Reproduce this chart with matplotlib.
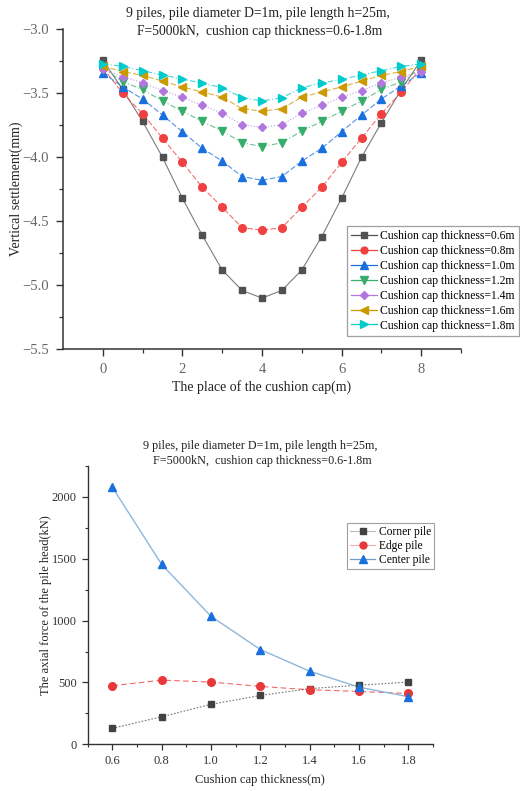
import matplotlib
matplotlib.use("Agg")
import matplotlib.pyplot as plt
from matplotlib.ticker import MultipleLocator, FixedLocator

plt.rcParams['font.family'] = ['Liberation Serif', 'DejaVu Serif']

# ---------------- data: top chart ----------------
place = [0, 0.5, 1, 1.5, 2, 2.5, 3, 3.5, 4, 4.5, 5, 5.5, 6, 6.5, 7, 7.5, 8]
thick_labels = ["Cushion cap thickness=0.6m", "Cushion cap thickness=0.8m",
                "Cushion cap thickness=1.0m", "Cushion cap thickness=1.2m",
                "Cushion cap thickness=1.4m", "Cushion cap thickness=1.6m",
                "Cushion cap thickness=1.8m"]
s06 = [-3.24, -3.47, -3.72, -4.00, -4.32, -4.61, -4.88, -5.04, -5.10,
       -5.04, -4.88, -4.62, -4.32, -4.00, -3.73, -3.47, -3.24]
s08 = [-3.30, -3.50, -3.66, -3.85, -4.04, -4.235, -4.39, -4.55, -4.57,
       -4.55, -4.39, -4.235, -4.04, -3.85, -3.66, -3.49, -3.30]
s10 = [-3.34, -3.45, -3.545, -3.67, -3.80, -3.93, -4.03, -4.15, -4.18,
       -4.15, -4.03, -3.93, -3.80, -3.67, -3.545, -3.44, -3.34]
s12 = [-3.30, -3.41, -3.47, -3.56, -3.64, -3.72, -3.795, -3.886, -3.917,
       -3.886, -3.795, -3.72, -3.64, -3.56, -3.47, -3.41, -3.30]
s14 = [-3.31, -3.37, -3.417, -3.48, -3.53, -3.595, -3.655, -3.745, -3.766,
       -3.745, -3.655, -3.595, -3.53, -3.48, -3.417, -3.375, -3.33]
s16 = [-3.29, -3.33, -3.36, -3.405, -3.45, -3.49, -3.53, -3.62, -3.64,
       -3.62, -3.53, -3.49, -3.45, -3.405, -3.36, -3.33, -3.29]
s18 = [-3.27, -3.29, -3.323, -3.357, -3.39, -3.42, -3.456, -3.534, -3.56,
       -3.534, -3.456, -3.42, -3.39, -3.357, -3.323, -3.29, -3.27]
top_series = [s06, s08, s10, s12, s14, s16, s18]

# ---------------- data: bottom chart ----------------
thickness = [0.6, 0.8, 1.0, 1.2, 1.4, 1.6, 1.8]
pile_labels = ["Corner pile", "Edge pile", "Center pile"]
corner = [129, 223, 323, 395, 450, 478, 503]
edge = [473, 519, 503, 468, 441, 427, 411]
center = [2078, 1454, 1035, 766, 591, 462, 385]

# ---------------- styles ----------------
colors = ['#515151', '#F14040', '#1A6FDF', '#37AD6B', '#B177DE', '#CC9900', '#00CBCC']
markers = ['s', 'o', '^', 'v', 'D', '<', '>']
msizes = [5, 5.5, 6, 6, 4.5, 6, 6]
lstyles = ['-', (0, (5, 2)), (0, (5, 2)), (0, (5, 2, 1, 2)), ':', (0, (5, 2)), (0, (5, 2, 1, 2))]

W, H = 520, 791
fig = plt.figure(figsize=(W / 100, H / 100), dpi=100)

def fx(px):
    return px / W

def fy(py):
    return 1 - py / H

# ---------------- top axes ----------------
ax1 = fig.add_axes([fx(63), fy(349.3), fx(461 - 63), (349.3 - 29.3) / H])
for s, c, m, ms, ls, lab in zip(top_series, colors, markers, msizes, lstyles, thick_labels):
    ax1.plot(place, s, color=c, lw=0.8, ls=ls, alpha=0.75, zorder=2)
    ax1.plot(place, s, color=c, lw=0, marker=m, ms=ms, mec=c, zorder=3)
    # legend proxy
    ax1.plot([], [], color=c, lw=0.9, ls='-', marker=m, ms=ms * 0.9, label=lab)
ax1.set_xlim(-1, 9)
ax1.set_ylim(-5.5, -3.0)
ax1.xaxis.set_major_locator(FixedLocator([0, 2, 4, 6, 8]))
ax1.xaxis.set_minor_locator(FixedLocator([1, 3, 5, 7, 9]))
ax1.yaxis.set_major_locator(MultipleLocator(0.5))
ax1.yaxis.set_minor_locator(MultipleLocator(0.25))
for sp in ['top', 'right']:
    ax1.spines[sp].set_visible(False)
for sp in ['left', 'bottom']:
    ax1.spines[sp].set_linewidth(1.1)
    ax1.spines[sp].set_color('#333333')
ax1.tick_params(which='major', direction='out', length=5, width=1, colors='#333333',
                labelcolor='#666666', labelsize=10.5, pad=5)
ax1.tick_params(which='minor', direction='out', length=3, width=0.9, colors='#333333')
ax1.yaxis.set_major_formatter(matplotlib.ticker.FuncFormatter(lambda v, p: f"{v:.1f}".replace('-', '\u2212')))

h1, l1 = ax1.get_legend_handles_labels()
leg1 = fig.legend(h1, l1, loc='upper left', bbox_to_anchor=(fx(347), fy(226)),
                  fontsize=8.4, frameon=True, fancybox=False, edgecolor='#888888',
                  borderpad=0.35, labelspacing=0.25, handlelength=2.2, handletextpad=0.3,
                  borderaxespad=0)
leg1.get_frame().set_linewidth(0.9)

fig.text(fx(258), fy(14), "9 piles, pile diameter D=1m, pile length h=25m,",
         ha='center', va='center', fontsize=9.8, color='#222222')
fig.text(fx(260), fy(31), "F=5000kN,  cushion cap thickness=0.6-1.8m",
         ha='center', va='center', fontsize=9.8, color='#222222')
fig.text(fx(262), fy(387), "The place of the cushion cap(m)", ha='center', va='center',
         fontsize=10, color='#222222')
fig.text(fx(16), fy(189), "Vertical settlement(mm)", ha='center', va='center',
         rotation=90, fontsize=10, color='#222222')

# ---------------- bottom axes ----------------
ax2 = fig.add_axes([fx(87.7), fy(744.3), fx(433 - 87.7), (744.3 - 466) / H])
ax2.plot(thickness, corner, color='#777777', lw=0.8, ls=(0, (1.5, 1.5)), zorder=2)
ax2.plot(thickness, corner, lw=0, marker='s', ms=5, color='#424242', zorder=3)
ax2.plot(thickness, edge, color='#F14040', lw=0.8, ls=(0, (5, 3)), alpha=0.8, zorder=2)
ax2.plot(thickness, edge, lw=0, marker='o', ms=5.5, color='#E8383A', zorder=3)
ax2.plot(thickness, center, color='#8DB8DC', lw=1.0, ls='-', zorder=2)
ax2.plot(thickness, center, lw=0, marker='^', ms=6, color='#1A6FDF', zorder=3)
ax2.plot([], [], color='#bbbbbb', lw=0.8, marker='s', ms=4.5, mfc='#424242', mec='#424242', label=pile_labels[0])
ax2.plot([], [], color='#f3b0b0', lw=0.8, marker='o', ms=5, mfc='#E8383A', mec='#E8383A', label=pile_labels[1])
ax2.plot([], [], color='#6E9FCB', lw=0.9, marker='^', ms=5.5, mfc='#1A6FDF', mec='#1A6FDF', label=pile_labels[2])
ax2.set_xlim(0.5, 1.9)
ax2.set_ylim(0, 2250)
ax2.xaxis.set_major_locator(FixedLocator(thickness))
ax2.xaxis.set_minor_locator(FixedLocator([0.5, 0.7, 0.9, 1.1, 1.3, 1.5, 1.7, 1.9]))
ax2.yaxis.set_major_locator(MultipleLocator(500))
ax2.yaxis.set_minor_locator(MultipleLocator(250))
ax2.xaxis.set_major_formatter(matplotlib.ticker.FormatStrFormatter('%.1f'))
for sp in ['top', 'right']:
    ax2.spines[sp].set_visible(False)
for sp in ['left', 'bottom']:
    ax2.spines[sp].set_linewidth(1.0)
    ax2.spines[sp].set_color('#333333')
ax2.tick_params(which='major', direction='out', length=4, width=0.9, colors='#333333',
                labelcolor='#333333', labelsize=9, pad=4)
ax2.tick_params(which='minor', direction='out', length=2.5, width=0.8, colors='#333333')

h2, l2 = ax2.get_legend_handles_labels()
leg2 = fig.legend(h2, l2, loc='upper left', bbox_to_anchor=(fx(347), fy(523)),
                  fontsize=8.3, frameon=True, fancybox=False, edgecolor='#888888',
                  borderpad=0.25, labelspacing=0.2, handlelength=2.2, handletextpad=0.3,
                  borderaxespad=0)
leg2.get_frame().set_linewidth(0.8)

fig.text(fx(260), fy(446), "9 piles, pile diameter D=1m, pile length h=25m,",
         ha='center', va='center', fontsize=8.7, color='#222222')
fig.text(fx(262), fy(461), "F=5000kN,  cushion cap thickness=0.6-1.8m",
         ha='center', va='center', fontsize=8.7, color='#222222')
fig.text(fx(260), fy(780), "Cushion cap thickness(m)", ha='center', va='center',
         fontsize=9, color='#222222')
fig.text(fx(46), fy(605), "The axial force of the pile head(kN)", ha='center', va='center',
         rotation=90, fontsize=9, color='#222222')

fig.savefig("out.png", dpi=100)
